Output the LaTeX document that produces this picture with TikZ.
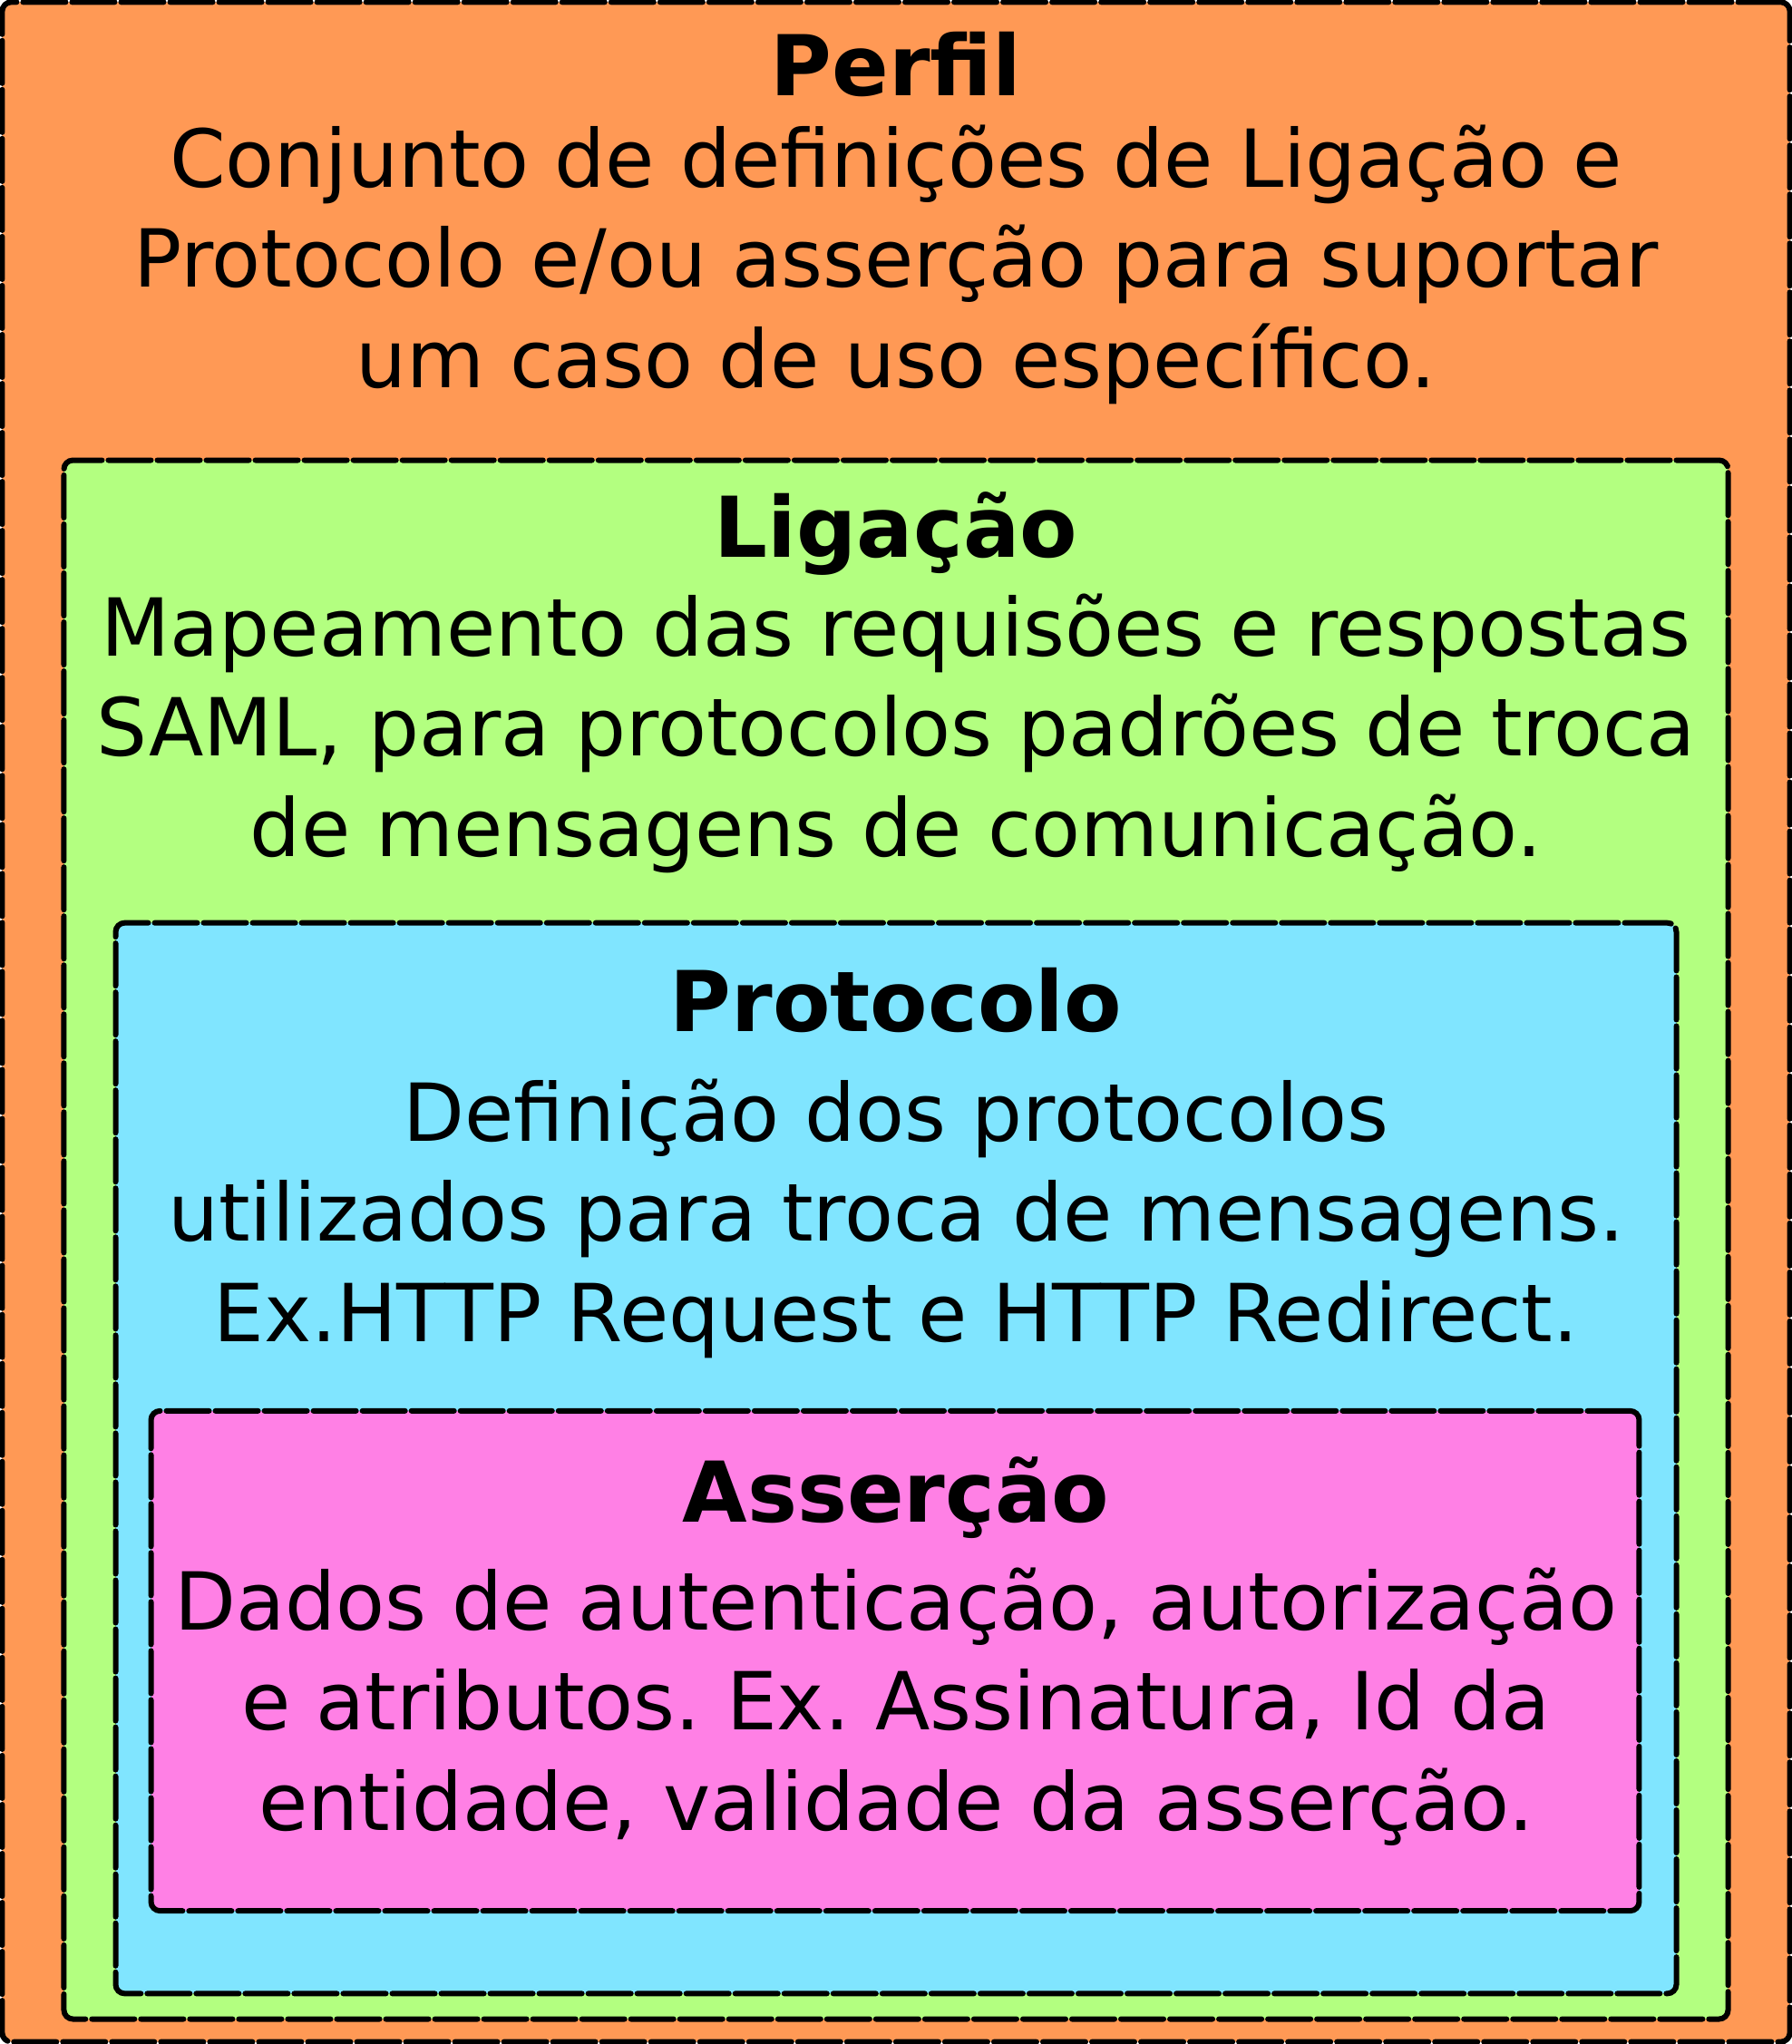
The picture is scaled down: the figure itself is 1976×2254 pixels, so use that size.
\documentclass[tikz,border=0pt]{standalone}
\usepackage{fontspec}
\setmainfont{DejaVu Sans}
\usepackage{tikz}
\frenchspacing
\definecolor{perfilfill}{RGB}{255,153,85}
\definecolor{ligacaofill}{RGB}{179,255,128}
\definecolor{protocolofill}{RGB}{128,229,255}
\definecolor{assercaofill}{RGB}{255,128,229}

\begin{document}
\begin{tikzpicture}[
    x=0.01cm, y=-0.01cm,
    layer/.style={draw, line width=0.06cm, rounded corners=0.1cm, line cap=round,
                  dash pattern=on 0.47cm off 0.07cm, inner sep=0pt},
    title/.style={anchor=base, font=\fontsize{26.3}{31.3}\selectfont\bfseries},
    body/.style={anchor=base, align=center, font=\fontsize{25.1}{31.3}\selectfont}
]
    \useasboundingbox (0,0) rectangle (1976,2254);

    % nested layers
    \node[layer, fill=perfilfill, minimum width=19.70cm, minimum height=22.48cm] (perfil) at (988,1127) {};
    \node[layer, fill=ligacaofill, minimum width=18.34cm, minimum height=17.18cm] (ligacao) at (988,1367) {};
    \node[layer, fill=protocolofill, minimum width=17.20cm, minimum height=11.80cm] (protocolo) at (988,1608) {};
    \node[layer, fill=assercaofill, minimum width=16.40cm, minimum height=5.51cm] (assercao) at (987,1831.5) {};

    % Perfil (body text sits on the baseline of its last line)
    \node[title] (perfiltitle) at (988,105) {Perfil};
    \node[body] (perfiltext) at (988,427) {Conjunto de definições de Ligação e\\Protocolo e/ou asserção para suportar\\um caso de uso específico.};

    % Ligacao
    \node[title] (ligacaotitle) at (988,614) {Ligação};
    \node[body] (ligacaotext) at (988,944) {Mapeamento das requisões e respostas\\SAML, para protocolos padrões de troca\\de mensagens de comunicação.};

    % Protocolo
    \node[title] (protocolotitle) at (988,1137) {Protocolo};
    \node[body] (protocolotext) at (988,1479) {Definição dos protocolos\\utilizados para troca de mensagens.\\Ex.HTTP Request e HTTP Redirect.};

    % Assercao
    \node[title] (assercaotitle) at (988,1678) {Asserção};
    \node[body] (assercaotext) at (988,2018) {Dados de autenticação, autorização\\e atributos. Ex. Assinatura, Id da\\entidade, validade da asserção.};
\end{tikzpicture}
\end{document}
